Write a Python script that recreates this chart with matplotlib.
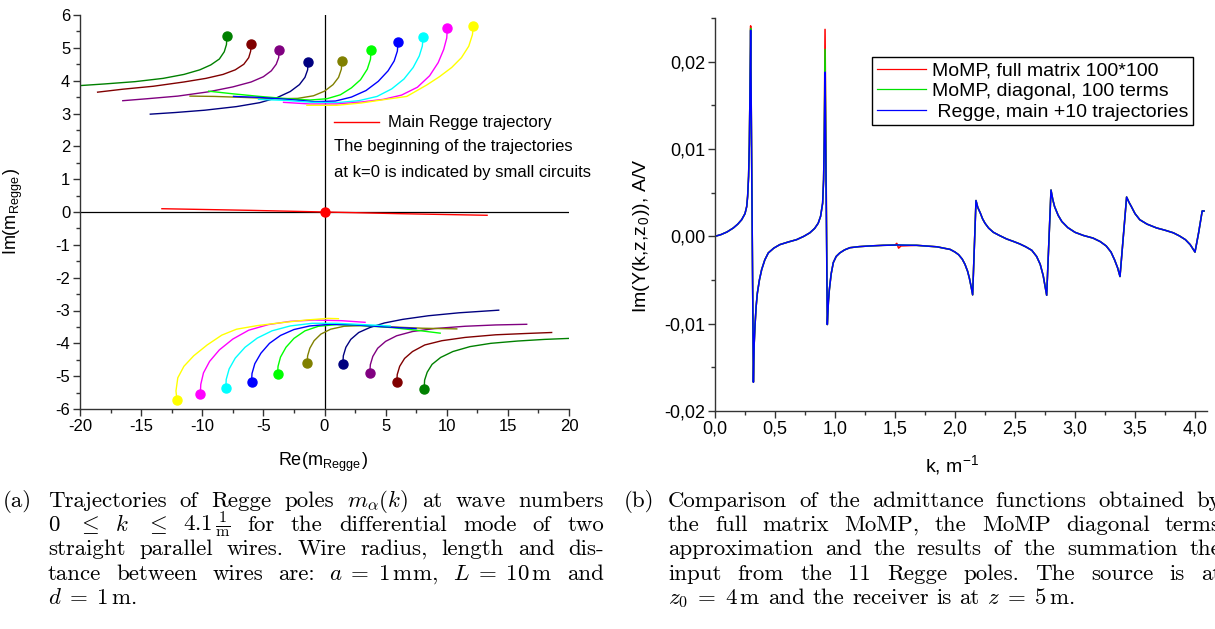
import numpy as np
import matplotlib
matplotlib.use('Agg')
import matplotlib.pyplot as plt
from matplotlib.ticker import MultipleLocator, FixedLocator, FixedFormatter

plt.rcParams['font.family'] = ['Liberation Sans', 'DejaVu Sans']
plt.rcParams['mathtext.fontset'] = 'cm'

W, H = 1215, 629

# ---- (a) Regge pole trajectories, colours in the order of the lists below
traj_colors = ['#008000', '#800000', '#800080', '#000080', '#808000',
               '#00ff00', '#0000ff', '#00ffff', '#ff00ff', '#ffff00']

# upper half plane, first point = k=0 (dot)
upper_re = [
    [-7.98, -8.02, -8.2, -8.6, -9.3, -10.2, -11.5, -13.2, -15.5, -18.0, -20.0, -21.0],
    [-6.0, -6.04, -6.2, -6.6, -7.3, -8.3, -9.7, -11.5, -14.0, -16.5, -18.56],
    [-3.71, -3.75, -3.95, -4.35, -5.0, -6.0, -7.5, -9.5, -12.0, -14.5, -16.5],
    [-1.34, -1.38, -1.6, -2.05, -2.8, -3.9, -5.3, -7.2, -9.8, -12.2, -14.25],
    [1.42, 1.38, 1.15, 0.7, 0.0, -0.9, -2.2, -4.0, -6.6, -9.0, -11.0],
    [3.81, 3.76, 3.5, 2.95, 2.2, 1.3, 0.2, -1.2, -3.0, -5.3, -7.5, -9.48],
    [6.02, 5.96, 5.7, 5.2, 4.4, 3.4, 2.2, 0.9, -0.8, -3.0, -5.3, -7.44],
    [8.07, 8.0, 7.75, 7.25, 6.5, 5.5, 4.3, 2.8, 1.0, -1.0, -3.2, -5.4],
    [10.05, 10.0, 9.75, 9.3, 8.6, 7.6, 6.3, 4.8, 3.0, 1.0, -1.2, -3.35],
    [12.18, 12.1, 11.8, 11.2, 10.4, 9.4, 8.37, 6.73, 5.0, 3.0, 1.0, -1.44],
]
upper_im = [
    [5.36, 5.1, 4.88, 4.66, 4.48, 4.33, 4.19, 4.07, 3.97, 3.9, 3.85, 3.84],
    [5.13, 4.9, 4.7, 4.5, 4.33, 4.19, 4.07, 3.96, 3.83, 3.74, 3.65],
    [4.92, 4.7, 4.5, 4.3, 4.12, 3.96, 3.81, 3.66, 3.53, 3.45, 3.39],
    [4.57, 4.33, 4.1, 3.88, 3.67, 3.48, 3.33, 3.21, 3.1, 3.03, 2.98],
    [4.61, 4.35, 4.1, 3.88, 3.68, 3.54, 3.46, 3.45, 3.49, 3.52, 3.53],
    [4.92, 4.65, 4.35, 4.03, 3.78, 3.57, 3.45, 3.41, 3.45, 3.52, 3.6, 3.68],
    [5.18, 4.9, 4.6, 4.3, 3.98, 3.7, 3.5, 3.38, 3.36, 3.43, 3.49, 3.52],
    [5.32, 5.05, 4.75, 4.4, 4.05, 3.75, 3.52, 3.39, 3.33, 3.34, 3.4, 3.43],
    [5.61, 5.3, 4.95, 4.55, 4.15, 3.8, 3.56, 3.43, 3.35, 3.29, 3.29, 3.34],
    [5.67, 5.4, 5.05, 4.7, 4.4, 4.12, 3.87, 3.52, 3.43, 3.32, 3.25, 3.25],
]

# lower half plane
lower_re = [
    [8.15, 8.19, 8.4, 8.8, 9.5, 10.5, 11.9, 13.6, 15.8, 18.0, 20.0, 21.0],
    [5.91, 5.95, 6.15, 6.55, 7.2, 8.2, 9.6, 11.5, 14.0, 16.5, 18.58],
    [3.71, 3.75, 3.95, 4.35, 5.0, 5.9, 7.2, 9.0, 11.5, 14.0, 16.54],
    [1.5, 1.54, 1.75, 2.15, 2.8, 3.7, 4.9, 6.4, 8.5, 11.0, 14.25],
    [-1.42, -1.38, -1.2, -0.85, -0.3, 0.5, 1.6, 3.0, 5.5, 8.0, 10.82],
    [-3.84, -3.8, -3.6, -3.15, -2.5, -1.6, -0.5, 1.0, 3.0, 5.5, 7.5, 9.46],
    [-5.97, -5.93, -5.7, -5.2, -4.5, -3.6, -2.5, -1.2, 0.5, 2.5, 5.0, 7.49],
    [-8.07, -8.04, -7.8, -7.3, -6.5, -5.5, -4.3, -2.8, -1.0, 1.0, 3.2, 5.37],
    [-10.16, -10.12, -9.9, -9.4, -8.6, -7.5, -6.2, -4.6, -2.8, -0.8, 1.4, 3.32],
    [-12.07, -12.15, -12.0, -11.5, -10.7, -9.6, -8.4, -7.2, -5.5, -3.5, -1.5, 0.3, 1.14],
]
lower_im = [
    [-5.39, -5.12, -4.88, -4.64, -4.43, -4.25, -4.1, -4.0, -3.93, -3.88, -3.85, -3.84],
    [-5.19, -4.95, -4.7, -4.46, -4.25, -4.05, -3.92, -3.82, -3.74, -3.7, -3.67],
    [-4.89, -4.65, -4.4, -4.15, -3.94, -3.77, -3.64, -3.55, -3.48, -3.44, -3.42],
    [-4.63, -4.38, -4.12, -3.88, -3.67, -3.52, -3.38, -3.27, -3.16, -3.07, -2.99],
    [-4.61, -4.38, -4.15, -3.92, -3.72, -3.57, -3.48, -3.46, -3.5, -3.54, -3.56],
    [-4.94, -4.7, -4.42, -4.12, -3.85, -3.62, -3.48, -3.43, -3.46, -3.52, -3.6, -3.69],
    [-5.18, -4.92, -4.62, -4.3, -4.0, -3.76, -3.58, -3.47, -3.42, -3.44, -3.5, -3.55],
    [-5.37, -5.1, -4.78, -4.45, -4.12, -3.84, -3.62, -3.47, -3.39, -3.39, -3.43, -3.47],
    [-5.54, -5.25, -4.9, -4.55, -4.2, -3.87, -3.6, -3.43, -3.33, -3.29, -3.31, -3.36],
    [-5.73, -5.45, -5.05, -4.7, -4.38, -4.05, -3.75, -3.57, -3.46, -3.37, -3.29, -3.24, -3.25],
]

main_re = [-13.3, -6.0, 0.0, 6.0, 13.3]
main_im = [0.10, 0.05, 0.0, -0.05, -0.10]

re_ticks = [-20, -15, -10, -5, 0, 5, 10, 15, 20]
re_tick_labels = ['-20', '-15', '-10', '-5', '0', '5', '10', '15', '20']
im_ticks = [-6, -5, -4, -3, -2, -1, 0, 1, 2, 3, 4, 5, 6]
im_tick_labels = ['-6', '-5', '-4', '-3', '-2', '-1', '0', '1', '2', '3', '4', '5', '6']

# ---- (b) admittance Im(Y), values read in mA/V
k = [0.0, 0.05, 0.1, 0.153, 0.19, 0.222, 0.25, 0.264, 0.272, 0.280, 0.286, 0.291, 0.297,
     0.320, 0.326, 0.333, 0.343, 0.353, 0.37, 0.389, 0.415, 0.444, 0.49, 0.54, 0.61,
     0.68, 0.74, 0.79, 0.83, 0.86, 0.88, 0.897, 0.905, 0.910, 0.917,
     0.936, 0.945, 0.953, 0.968, 0.986, 1.01, 1.04, 1.08, 1.125, 1.2, 1.29, 1.40, 1.50,
     1.515, 1.53, 1.55, 1.68, 1.85, 1.96, 2.0, 2.03, 2.06, 2.083, 2.105, 2.12, 2.135, 2.147,
     2.175, 2.19, 2.21, 2.23, 2.25, 2.28, 2.32, 2.37, 2.43, 2.49, 2.54, 2.59, 2.64, 2.68,
     2.71, 2.735, 2.764,
     2.80, 2.815, 2.83, 2.86, 2.89, 2.94, 3.0, 3.07, 3.15, 3.21, 3.26, 3.3, 3.33, 3.355, 3.375,
     3.43, 3.45, 3.47, 3.5, 3.54, 3.6, 3.68, 3.75, 3.82, 3.87, 3.92, 3.96, 4.0, 4.03, 4.06, 4.075]
y_full = [0.0, 0.2, 0.5, 0.96, 1.4, 1.9, 2.6, 3.4, 4.6, 6.9, 10.5, 16.0, 24.1,
          -16.7, -12.5, -10.3, -8.0, -6.5, -5.0, -3.8, -2.7, -1.9, -1.35, -0.95, -0.65,
          -0.38, 0.0, 0.4, 0.9, 1.5, 2.3, 3.8, 6.5, 10.7, 23.7,
          -10.1, -7.5, -6.1, -4.3, -3.0, -2.3, -1.9, -1.55, -1.3, -1.18, -1.1, -1.03, -1.0,
          -0.8, -1.35, -1.1, -1.03, -1.2, -1.5, -1.8, -2.1, -2.6, -3.2, -4.0, -4.8, -5.8, -6.7,
          4.1, 3.3, 2.7, 2.0, 1.5, 0.95, 0.46, 0.1, -0.3, -0.6, -0.87, -1.2, -1.6, -2.3,
          -3.2, -4.5, -6.75,
          5.3, 4.2, 3.4, 2.4, 1.7, 1.0, 0.46, 0.1, -0.2, -0.6, -1.1, -1.8, -2.7, -3.6, -4.6,
          4.5, 3.9, 3.4, 2.6, 1.9, 1.4, 0.96, 0.7, 0.4, 0.05, -0.38, -0.95, -1.8, 0.4, 2.9, 2.9]
y_diag = [0.0, 0.2, 0.5, 0.96, 1.4, 1.9, 2.6, 3.4, 4.6, 6.9, 10.5, 16.0, 23.8,
          -16.7, -12.5, -10.3, -8.0, -6.5, -5.0, -3.8, -2.7, -1.9, -1.35, -0.95, -0.65,
          -0.38, 0.0, 0.4, 0.9, 1.5, 2.3, 3.8, 6.5, 10.7, 21.4,
          -10.1, -7.5, -6.1, -4.3, -3.0, -2.3, -1.9, -1.55, -1.3, -1.18, -1.1, -1.03, -1.0,
          -0.99, -0.99, -1.0, -1.03, -1.2, -1.5, -1.8, -2.1, -2.6, -3.2, -4.0, -4.8, -5.8, -6.7,
          4.1, 3.3, 2.7, 2.0, 1.5, 0.95, 0.46, 0.1, -0.3, -0.6, -0.87, -1.2, -1.6, -2.3,
          -3.2, -4.5, -6.75,
          5.3, 4.2, 3.4, 2.4, 1.7, 1.0, 0.46, 0.1, -0.2, -0.6, -1.1, -1.8, -2.7, -3.6, -4.6,
          4.5, 3.9, 3.4, 2.6, 1.9, 1.4, 0.96, 0.7, 0.4, 0.05, -0.38, -0.95, -1.8, 0.4, 2.9, 2.9]
y_regge = [0.0, 0.2, 0.5, 0.96, 1.4, 1.9, 2.6, 3.4, 4.6, 6.9, 10.5, 16.0, 23.6,
           -16.7, -12.5, -10.3, -8.0, -6.5, -5.0, -3.8, -2.7, -1.9, -1.35, -0.95, -0.65,
           -0.38, 0.0, 0.4, 0.9, 1.5, 2.3, 3.8, 6.5, 10.7, 18.8,
           -10.1, -7.5, -6.1, -4.3, -3.0, -2.3, -1.9, -1.55, -1.3, -1.18, -1.1, -1.03, -1.0,
           -0.99, -0.99, -1.0, -1.03, -1.2, -1.5, -1.8, -2.1, -2.6, -3.2, -4.0, -4.8, -5.8, -6.7,
           4.1, 3.3, 2.7, 2.0, 1.5, 0.95, 0.46, 0.1, -0.3, -0.6, -0.87, -1.2, -1.6, -2.3,
           -3.2, -4.5, -6.75,
           5.3, 4.2, 3.4, 2.4, 1.7, 1.0, 0.46, 0.1, -0.2, -0.6, -1.1, -1.8, -2.7, -3.6, -4.6,
           4.5, 3.9, 3.4, 2.6, 1.9, 1.4, 0.96, 0.7, 0.4, 0.05, -0.38, -0.95, -1.8, 0.4, 2.9, 2.9]
series_labels = ['MoMP, full matrix 100*100', 'MoMP, diagonal, 100 terms',
                 ' Regge, main +10 trajectories']

k_ticks = [0.0, 0.5, 1.0, 1.5, 2.0, 2.5, 3.0, 3.5, 4.0]
k_tick_labels = ['0,0', '0,5', '1,0', '1,5', '2,0', '2,5', '3,0', '3,5', '4,0']
y_ticks = [-0.02, -0.01, 0.0, 0.01, 0.02]
y_tick_labels = ['-0,02', '-0,01', '0,00', '0,01', '0,02']

# captions
cap_a = [
    ['Trajectories', 'of', 'Regge', 'poles', r'$m_\alpha(k)$', 'at', 'wave', 'numbers'],
    [r'$0$', r'$\leq$', r'$k$', r'$\leq$', r'$4.1\,\frac{1}{\mathrm{m}}$', 'for', 'the',
     'differential', 'mode', 'of', 'two'],
    ['straight', 'parallel', 'wires.', 'Wire', 'radius,', 'length', 'and', 'dis-'],
    ['tance', 'between', 'wires', 'are:', r'$a\;=\;1\,\mathrm{mm}$,', r'$L\;=\;10\,\mathrm{m}$', 'and'],
    [r'$d\;=\;1\,\mathrm{m}$.'],
]
cap_b = [
    ['Comparison', 'of', 'the', 'admittance', 'functions', 'obtained', 'by'],
    ['the', 'full', 'matrix', 'MoMP,', 'the', 'MoMP', 'diagonal', 'terms'],
    ['approximation', 'and', 'the', 'results', 'of', 'the', 'summation', 'the'],
    ['input', 'from', 'the', '11', 'Regge', 'poles.', 'The', 'source', 'is', 'at'],
    [r'$z_0\;=\;4\,\mathrm{m}$', 'and', 'the', 'receiver', 'is', 'at', r'$z\;=\;5\,\mathrm{m}$.'],
]


def style_axes(ax, size):
    ax.spines['top'].set_visible(False)
    ax.spines['right'].set_visible(False)
    for s in ['left', 'bottom']:
        ax.spines[s].set_color('#333333')
        ax.spines[s].set_linewidth(1.0)
    ax.tick_params(which='major', direction='out', length=5, width=1.0,
                   color='#333333', labelsize=size, pad=2)
    ax.tick_params(which='minor', direction='out', length=3, width=1.0,
                   color='#333333')


fig = plt.figure(figsize=(W / 100, H / 100), dpi=100)

# ---------------- (a)
ax1 = fig.add_axes([80 / W, 1 - 409 / H, (569 - 80) / W, (409 - 15) / H])
ax1.axhline(0, color='black', lw=0.9, zorder=1)
ax1.axvline(0, color='black', lw=0.9, zorder=1)
for re, im, c in zip(upper_re + lower_re, upper_im + lower_im, traj_colors + traj_colors):
    ax1.plot(re, im, color=c, lw=1.0, zorder=2)
    ax1.plot(re[0], im[0], 'o', color=c, ms=6.5, mec=c, zorder=3)
main_line, = ax1.plot(main_re, main_im, color='#ff0000', lw=1.0, zorder=2)
ax1.plot(main_re[2], main_im[2], 'o', color='#ff0000', ms=6.5, zorder=3)

ax1.set_xlim(-20, 20)
ax1.set_ylim(-6, 6)
ax1.xaxis.set_major_locator(FixedLocator(re_ticks))
ax1.xaxis.set_major_formatter(FixedFormatter(re_tick_labels))
ax1.yaxis.set_major_locator(FixedLocator(im_ticks))
ax1.yaxis.set_major_formatter(FixedFormatter(im_tick_labels))
ax1.xaxis.set_minor_locator(MultipleLocator(2.5))
ax1.yaxis.set_minor_locator(MultipleLocator(0.5))
style_axes(ax1, 12)

ax1.legend([main_line], ['Main Regge trajectory'], loc='center left',
           bbox_to_anchor=(334 / W, 1 - 123 / H), bbox_transform=fig.transFigure,
           frameon=False, borderpad=0, borderaxespad=0, handlelength=2.7,
           handletextpad=0.55, fontsize=12)
fig.text(334 / W, 1 - 147 / H, 'The beginning of the trajectories', fontsize=12, va='center')
fig.text(334 / W, 1 - 172 / H, 'at k=0 is indicated by small circuits', fontsize=12, va='center')
fig.text(13 / W, 1 - 212 / H, r'Im(m$_\mathregular{Regge}$)', fontsize=13,
         rotation=90, ha='center', va='center')
fig.text(323 / W, 1 - 462 / H, r'Re(m$_\mathregular{Regge}$)', fontsize=13,
         ha='center', va='center')

# ---------------- (b)
ax2 = fig.add_axes([715 / W, 1 - 411 / H, (1207 - 715) / W, (411 - 18) / H])
colors_b = ['#ff0000', '#00e000', '#0000ff']
for ys, c, lab in zip([y_full, y_diag, y_regge], colors_b, series_labels):
    ax2.plot(k, np.array(ys) * 1e-3, color=c, lw=1.1, label=lab)
ax2.set_xlim(0, 4.1)
ax2.set_ylim(-0.02, 0.025)
ax2.xaxis.set_major_locator(FixedLocator(k_ticks))
ax2.xaxis.set_major_formatter(FixedFormatter(k_tick_labels))
ax2.yaxis.set_major_locator(FixedLocator(y_ticks))
ax2.yaxis.set_major_formatter(FixedFormatter(y_tick_labels))
ax2.xaxis.set_minor_locator(MultipleLocator(0.25))
ax2.yaxis.set_minor_locator(MultipleLocator(0.005))
style_axes(ax2, 13)

leg = ax2.legend(loc='upper right', bbox_to_anchor=(1193 / W, 1 - 57 / H),
                 bbox_transform=fig.transFigure, fontsize=14, frameon=True,
                 fancybox=False, edgecolor='black', framealpha=1,
                 borderpad=0.25, borderaxespad=0, handlelength=2.5,
                 handletextpad=0.3, labelspacing=0.15)
leg.get_frame().set_linewidth(1.0)
for line in leg.get_lines():
    line.set_linewidth(0.9)

fig.text(641 / W, 1 - 236 / H, r'Im(Y(k,z,z$_\mathregular{0}$)), A/V', fontsize=14,
         rotation=90, ha='center', va='center')
fig.text(952 / W, 1 - 466 / H, r'k, m$^\mathregular{-1}$', fontsize=14,
         ha='center', va='center')

# ---------------- captions (justified like the LaTeX source)
renderer = fig.canvas.get_renderer()
CAP_SIZE = 16.5


def place_line(words, x0, y, x1=None):
    texts = [fig.text(0, 0, w, fontsize=CAP_SIZE, family='cmr10', va='baseline')
             for w in words]
    widths = [t.get_window_extent(renderer).width for t in texts]
    if x1 is None or len(words) == 1:
        gap = 0.333 * CAP_SIZE * 100 / 72
    else:
        gap = (x1 - x0 - sum(widths)) / (len(words) - 1)
    x = x0
    for t, w in zip(texts, widths):
        t.set_position((x / W, 1 - y / H))
        x += w + gap


baselines = [507, 531, 555, 579.5, 604]
for caption, tag, x_tag, x0, x1 in [(cap_a, '(a)', 3, 48, 604), (cap_b, '(b)', 624, 668, 1221)]:
    fig.text(x_tag / W, 1 - baselines[0] / H, tag, fontsize=CAP_SIZE, family='cmr10', va='baseline')
    for i, words in enumerate(caption):
        last = i == len(caption) - 1
        place_line(words, x0, baselines[i], None if last else x1)

fig.savefig('out.png', dpi=100)
